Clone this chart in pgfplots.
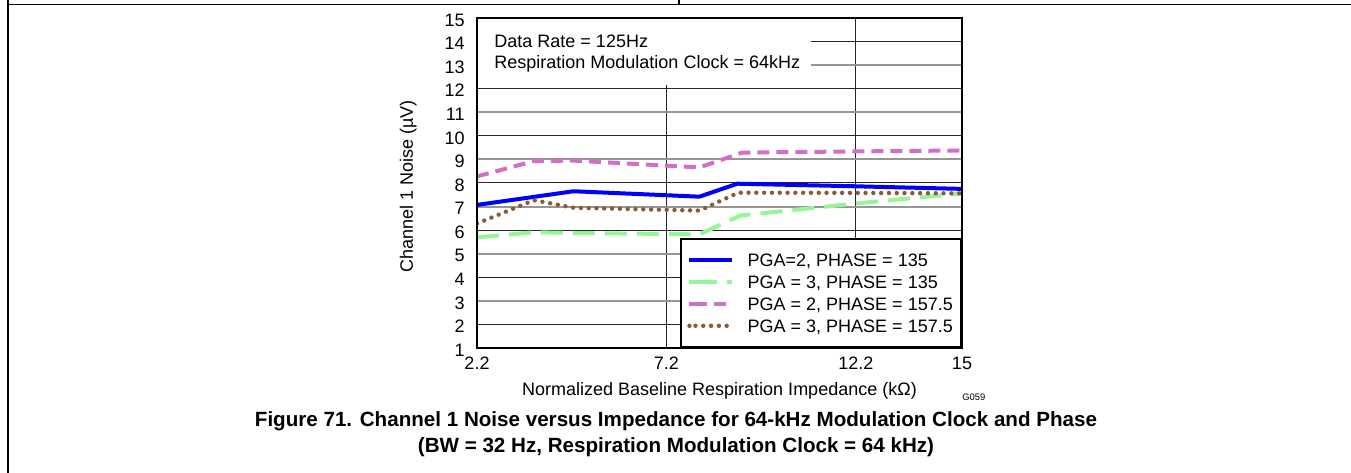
\documentclass[border=0pt]{standalone}
\usepackage{fontspec}
\setmainfont{Liberation Sans}
\usepackage{pgfplots}
\pgfplotsset{compat=1.18}
\definecolor{blueL}{RGB}{0,0,255}
\definecolor{greenL}{RGB}{150,245,150}
\definecolor{pinkL}{RGB}{210,110,200}
\definecolor{brownL}{RGB}{140,90,50}
\definecolor{gridG}{RGB}{150,150,150}
\newcommand{\lf}{\fontsize{9bp}{11bp}\selectfont}
\newcommand{\cf}{\fontsize{10.3bp}{12bp}\selectfont}
\begin{document}
\begin{tikzpicture}
\useasboundingbox (0,0) rectangle (675.5bp,236.5bp);
\draw[line width=0.75bp] (4bp,0) -- (4bp,236.5bp);
\draw[line width=0.75bp] (4bp,234.35bp) -- (675.5bp,234.35bp);
\draw[line width=0.75bp] (339.5bp,234.35bp) -- (339.5bp,236.5bp);
\begin{axis}[
  at={(238.5bp,62.5bp)}, anchor=south west,
  scale only axis, width=242.5bp, height=165bp,
  xmin=2.2, xmax=15, ymin=1, ymax=15,
  xtick={2.2,7.2,12.2,15}, xticklabels={2.2,7.2,12.2,15},
  ytick={1,2,4,6,8,10,12,14,15},
  extra y ticks={3,5,7,9,11,13},
  extra y tick style={major grid style={color=gridG, line width=1bp}},
  xmajorgrids, ymajorgrids,
  major grid style={black!85, line width=0.5bp},
  tick style={draw=none},
  axis line style={line width=1.4bp},
  /pgf/number format/assume math mode=true,
  tick label style={font=\lf},
  xticklabel style={anchor=base, yshift=-11bp, inner sep=0pt},
  yticklabel style={anchor=east, xshift=-6bp, yshift=-1bp, inner sep=0pt},
  xlabel={Normalized Baseline Respiration Impedance (kΩ)},
  ylabel={Channel 1 Noise (µV)},
  xlabel style={at={(axis description cs:0.5,0)}, anchor=base, yshift=-24bp, font=\lf, inner sep=0pt},
  ylabel style={at={(axis description cs:-0.132,0.49)}, anchor=base, font=\lf, inner sep=0pt},
  legend style={at={(rel axis cs:1,0)}, anchor=south east, draw=black, line width=1.2bp,
    fill=white, font=\lf, inner xsep=3bp, inner ysep=5bp, row sep=0bp, column sep=5.5bp,
    cells={anchor=west}, nodes={inner sep=1bp, text height=8bp, text depth=1bp}},
  legend image code/.code={\path (0bp,0bp) -- (3bp,0bp); \draw[#1] (3bp,0bp) -- (21.5bp,0bp);},
]
\fill[white] (axis cs:2.2,12.16) rectangle (axis cs:11.02,15);
\node[anchor=base west, inner sep=0pt, font=\lf] at (axis cs:2.65,13.75) {Data Rate = 125Hz};
\node[anchor=base west, inner sep=0pt, font=\lf] at (axis cs:2.65,12.84) {Respiration Modulation Clock = 64kHz};
\addplot[blueL, line width=2bp] coordinates {(2.2,7.07) (4.75,7.65) (8.07,7.42) (9.07,7.97) (12.2,7.86) (15,7.75)};
\addlegendentry{PGA=2, PHASE = 135}
\addplot[greenL, line width=2bp, dash pattern=on 11bp off 5bp] coordinates {(2.2,5.69) (3.7,5.91) (4.75,5.88) (8.07,5.82) (9.15,6.62) (12.2,7.13) (15,7.56)};
\addlegendentry{PGA = 3, PHASE = 135}
\addplot[pinkL, line width=2bp, dash pattern=on 6bp off 3.5bp] coordinates {(2.2,8.28) (3.7,8.93) (4.75,8.95) (8.07,8.66) (9.2,9.29) (12.2,9.34) (15,9.38)};
\addlegendentry{PGA = 2, PHASE = 157.5}
\addplot[brownL, line width=2.2bp, line cap=round, dash pattern=on 0bp off 3.9bp] coordinates {(2.2,6.28) (3.7,7.27) (4.75,6.95) (8.07,6.83) (9.1,7.59) (12.2,7.58) (15,7.56)};
\addlegendentry{PGA = 3, PHASE = 157.5}
\draw[line width=1.4bp] (rel axis cs:0,0) rectangle (rel axis cs:1,1);
\end{axis}
\node[anchor=base west, inner sep=0pt, font=\fontsize{4.7bp}{5bp}\selectfont] at (481bp,36.5bp) {G059};
\node[anchor=base, inner sep=0pt, font=\bfseries\cf] at (338bp,23.5bp) {Figure 71. Channel 1 Noise versus Impedance for 64-kHz Modulation Clock and Phase};
\node[anchor=base, inner sep=0pt, font=\bfseries\cf] at (338bp,10.5bp) {(BW = 32 Hz, Respiration Modulation Clock = 64 kHz)};
\end{tikzpicture}
\end{document}
